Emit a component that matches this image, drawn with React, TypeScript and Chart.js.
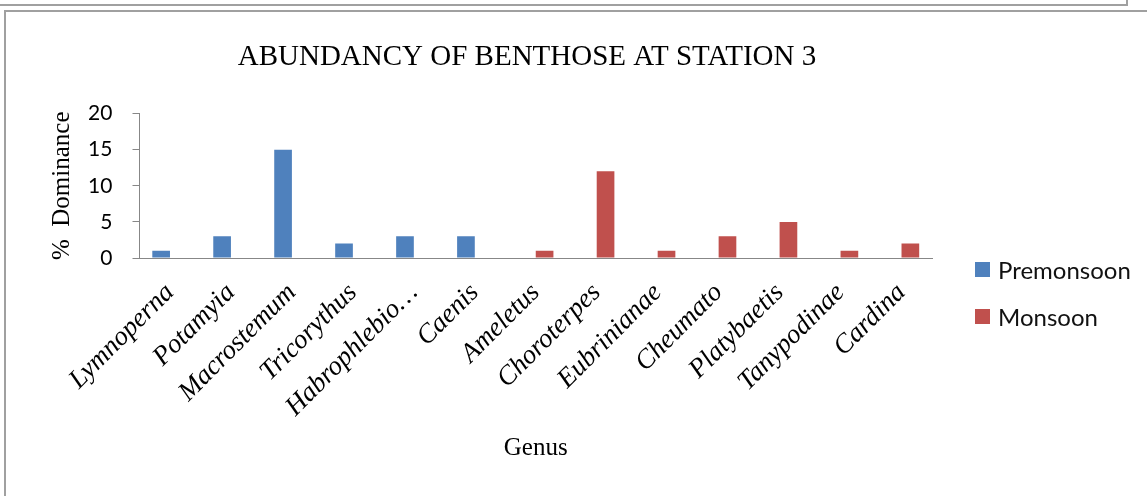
import React, { useEffect, useRef } from 'react';
import { Chart, registerables } from 'chart.js';

Chart.register(...registerables);

const chartTitle = 'ABUNDANCY OF BENTHOSE AT STATION 3';
const yAxisTitle = '%  Dominance';
const xAxisTitle = 'Genus';

const categories = [
  'Lymnoperna',
  'Potamyia',
  'Macrostemum',
  'Tricorythus',
  'Habrophlebio…',
  'Caenis',
  'Ameletus',
  'Choroterpes',
  'Eubrinianae',
  'Cheumato',
  'Platybaetis',
  'Tanypodinae',
  'Cardina',
];

const premonsoon = [1, 3, 15, 2, 3, 3, null, null, null, null, null, null, null];
const monsoon = [null, null, null, null, null, null, 1, 12, 1, 3, 5, 1, 2];

const seriesNames = ['Premonsoon', 'Monsoon'];
const seriesColors = ['#4F81BD', '#C0504D'];

const yMin = 0;
const yMax = 20;
const yStep = 5;

export default function App() {
  const canvasRef = useRef<HTMLCanvasElement | null>(null);

  useEffect(() => {
    if (!canvasRef.current) return;
    const chart = new Chart(canvasRef.current, {
      type: 'bar',
      data: {
        labels: categories,
        datasets: [
          {
            label: seriesNames[0],
            data: premonsoon,
            backgroundColor: seriesColors[0],
            borderWidth: 0,
            categoryPercentage: 0.58,
            barPercentage: 1,
          },
          {
            label: seriesNames[1],
            data: monsoon,
            backgroundColor: seriesColors[1],
            borderWidth: 0,
            categoryPercentage: 0.58,
            barPercentage: 1,
          },
        ],
      },
      options: {
        responsive: false,
        animation: false,
        devicePixelRatio: 1,
        layout: { padding: { left: 122, right: 215, top: 0, bottom: 0 } },
        plugins: {
          legend: { display: false },
          tooltip: { enabled: false },
          title: {
            display: true,
            text: chartTitle,
            color: '#000',
            font: { family: 'Liberation Serif', size: 29, weight: 'normal' },
            padding: { top: 39.6, bottom: 39.1 },
          },
        },
        scales: {
          x: {
            grid: { display: false },
            border: { display: true, color: '#878787', width: 1 },
            ticks: {
              autoSkip: false,
              maxRotation: 45,
              minRotation: 45,
              color: '#000',
              font: { family: 'Liberation Serif', style: 'italic', size: 27 },
              padding: 11,
            },
            title: {
              display: true,
              text: xAxisTitle,
              color: '#000',
              font: { family: 'Liberation Serif', size: 25 },
              padding: { top: 0, bottom: 33 },
            },
            afterFit: (scale: any) => {
              scale.height = 238;
              scale.paddingLeft = 0;
              scale.paddingRight = 0;
            },
          },
          y: {
            min: yMin,
            max: yMax,
            ticks: {
              stepSize: yStep,
              color: '#000',
              font: { family: 'Lato', size: 21 },
              mirror: true,
              crossAlign: 'far',
              padding: -51.5,
            },
            grid: { drawOnChartArea: false, tickLength: 7, color: '#878787' },
            border: { display: true, color: '#878787', width: 1 },
            title: {
              display: true,
              text: yAxisTitle,
              color: '#000',
              font: { family: 'Liberation Serif', size: 25 },
              padding: { top: -75, bottom: 0 },
            },
            afterFit: (scale: any) => {
              scale.width = 17.5;
            },
          },
        },
      },
    });
    return () => chart.destroy();
  }, []);

  return (
    <div
      style={{
        position: 'fixed',
        left: 0,
        top: 0,
        width: 1147,
        height: 496,
        background: '#fff',
        overflow: 'hidden',
      }}
    >
      <div
        style={{
          position: 'absolute',
          left: -4,
          top: -10,
          width: 1130,
          height: 14,
          borderRight: '2px solid #a0a0a0',
          borderBottom: '2px solid #a0a0a0',
        }}
      />
      <div
        style={{
          position: 'absolute',
          left: 4,
          top: 10,
          width: 1200,
          height: 600,
          borderLeft: '2px solid #a0a0a0',
          borderTop: '2px solid #a0a0a0',
        }}
      />
      <canvas
        ref={canvasRef}
        width={1147}
        height={496}
        style={{ position: 'absolute', left: 0, top: 0, width: 1147, height: 496 }}
      />
      {seriesNames.map((name, i) => (
        <div
          key={name}
          style={{
            position: 'absolute',
            left: 975,
            top: 257 + i * 47,
            height: 25,
            display: 'flex',
            alignItems: 'center',
            fontFamily: 'Lato',
            fontSize: 24,
            color: '#111',
            whiteSpace: 'nowrap',
          }}
        >
          <span
            style={{
              display: 'inline-block',
              width: 15,
              height: 15,
              background: seriesColors[i],
              marginRight: 8,
            }}
          />
          {name}
        </div>
      ))}
    </div>
  );
}
